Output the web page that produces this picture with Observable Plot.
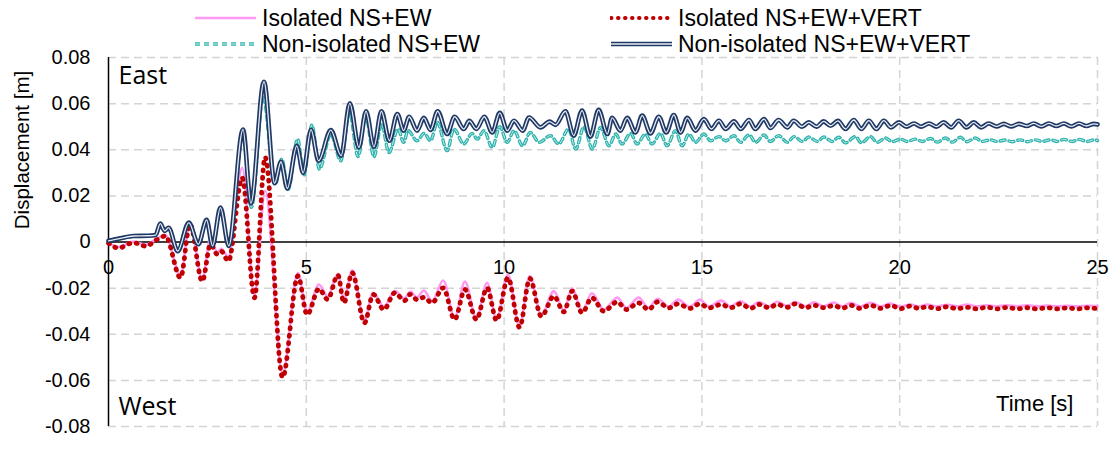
<!DOCTYPE html>
<html><head><meta charset="utf-8">
<script src="https://cdn.jsdelivr.net/npm/d3@7"></script>
<script src="https://cdn.jsdelivr.net/npm/@observablehq/plot@0.6"></script>
<style>
body{margin:0;background:#fff;font-family:"Liberation Sans",Arial,sans-serif;}
#wrap{position:relative;width:1113px;height:450px;overflow:hidden;}
.lt{position:absolute;font-size:23px;line-height:1;white-space:nowrap;color:#000;transform:translateY(-50%);}
.sw{position:absolute;}
#ylab{position:absolute;left:22px;top:150px;transform:translate(-50%,-50%) rotate(-90deg);font-size:20.5px;white-space:nowrap;}
</style></head>
<body><div id="wrap"></div>
<script>
// ---- data ----
const seriesNames = ["Isolated NS+EW","Isolated NS+EW+VERT","Non-isolated NS+EW","Non-isolated NS+EW+VERT"];
const xTicks = [0,5,10,15,20,25];
const yTicks = [-0.08,-0.06,-0.04,-0.02,0,0.02,0.04,0.06,0.08];

// Isolated: shared time stamps (s)
const isoT = [0,0.25,0.63,0.95,1.20,1.44,1.82,2.06,2.37,2.58,2.75,2.85,3.03,3.38,3.69,3.96,4.40,4.79,5.02,5.32,5.54,5.80,5.95,6.16,6.47,6.69,6.96,7.24,7.48,7.63,7.80,7.97,8.18,8.46,8.75,9.01,9.30,9.57,9.81,10.10,10.39,10.65,10.94,11.26,11.51,11.72,11.97,12.22,12.52,12.86,13.09,13.40,13.65,13.88,14.16,14.40,14.69,14.95,15.17,15.49,15.72,15.98,16.23,16.44,16.70,16.90,17.16,17.36,17.62,17.83,18.08,18.33,18.55,18.76,19.01,19.26,19.52,19.77,20.02,20.27,20.48,20.69,20.95,21.20,21.45,21.70,21.95,22.21,22.46,22.71,22.97,23.22,23.47,23.73,23.98,24.23,24.49,24.74,25];
// Isolated NS+EW (m)
const isoNSEW = [-0.0003,-0.0022,0.0002,-0.0012,0.0012,0.0030,-0.0145,0.0083,-0.0160,0.0017,-0.0045,-0.0030,-0.0065,0.0322,-0.0230,0.0222,-0.0572,-0.0135,-0.0305,-0.0184,-0.0235,-0.0138,-0.0250,-0.0123,-0.0340,-0.0220,-0.0280,-0.0213,-0.0245,-0.0215,-0.0240,-0.0210,-0.0257,-0.0167,-0.0329,-0.0172,-0.0332,-0.0177,-0.0336,-0.0141,-0.0365,-0.0148,-0.0317,-0.0213,-0.0297,-0.0201,-0.0300,-0.0222,-0.0293,-0.0241,-0.0286,-0.0241,-0.0285,-0.0246,-0.0280,-0.0250,-0.0281,-0.0250,-0.0280,-0.0254,-0.0279,-0.0257,-0.0280,-0.0260,-0.0279,-0.0259,-0.0278,-0.0260,-0.0279,-0.0262,-0.0279,-0.0263,-0.0279,-0.0264,-0.0279,-0.0264,-0.0279,-0.0267,-0.0280,-0.0271,-0.0280,-0.0271,-0.0279,-0.0272,-0.0279,-0.0271,-0.0279,-0.0274,-0.0279,-0.0275,-0.0279,-0.0275,-0.0279,-0.0276,-0.0279,-0.0277,-0.0279,-0.0277,-0.0278];
// Isolated NS+EW+VERT (m)
const isoVert = [-0.0005,-0.0026,-0.0003,-0.0018,0.0008,0.0026,-0.0155,0.0077,-0.0170,-0.0010,-0.0053,-0.0040,-0.0083,0.0278,-0.0242,0.0368,-0.0587,-0.0147,-0.0315,-0.0203,-0.0249,-0.0143,-0.0264,-0.0133,-0.0351,-0.0227,-0.0293,-0.0220,-0.0255,-0.0227,-0.0250,-0.0240,-0.0264,-0.0199,-0.0336,-0.0206,-0.0336,-0.0199,-0.0340,-0.0155,-0.0370,-0.0158,-0.0322,-0.0235,-0.0303,-0.0213,-0.0307,-0.0242,-0.0300,-0.0260,-0.0293,-0.0264,-0.0293,-0.0260,-0.0286,-0.0268,-0.0288,-0.0268,-0.0286,-0.0271,-0.0285,-0.0268,-0.0288,-0.0271,-0.0285,-0.0271,-0.0283,-0.0268,-0.0285,-0.0274,-0.0285,-0.0276,-0.0287,-0.0275,-0.0288,-0.0274,-0.0288,-0.0275,-0.0289,-0.0278,-0.0288,-0.0281,-0.0289,-0.0281,-0.0289,-0.0283,-0.0290,-0.0283,-0.0290,-0.0284,-0.0290,-0.0285,-0.0290,-0.0285,-0.0290,-0.0286,-0.0290,-0.0286,-0.0289];

// Non-isolated NS+EW
const nonT = [0,0.3,0.63,1.0,1.19,1.31,1.42,1.52,1.75,2.03,2.27,2.48,2.63,2.83,3.04,3.41,3.61,3.91,4.21,4.38,4.54,4.78,4.94,5.14,5.33,5.62,5.87,6.09,6.31,6.50,6.71,6.90,7.09,7.32,7.46,7.57,7.80,7.98,8.14,8.31,8.56,8.73,8.98,9.19,9.32,9.49,9.70,9.89,10.08,10.25,10.47,10.66,10.89,11.17,11.38,11.63,11.81,12.02,12.23,12.44,12.65,12.82,12.98,13.20,13.36,13.57,13.74,13.95,14.12,14.33,14.50,14.67,14.84,15.05,15.22,15.43,15.60,15.81,15.98,16.19,16.36,16.57,16.73,16.94,17.16,17.33,17.54,17.70,17.92,18.08,18.29,18.46,18.63,18.88,19.03,19.26,19.43,19.64,19.81,20.02,20.19,20.40,20.57,20.78,20.95,21.16,21.33,21.53,21.70,21.91,22.08,22.29,22.46,22.67,22.84,23.05,23.22,23.43,23.60,23.81,23.98,24.15,24.36,24.53,24.74,24.91,25];
const nonNSEW = [0.0005,0.0015,0.0024,0.0026,0.0029,0.0078,0.0047,0.0060,-0.0038,0.0082,-0.0008,0.0094,-0.0015,0.0145,-0.0020,0.0475,0.0150,0.0630,0.0250,0.0360,0.0228,0.0446,0.0290,0.0507,0.0316,0.0468,0.0352,0.0562,0.0370,0.0548,0.0370,0.0512,0.0388,0.0490,0.0432,0.0483,0.0439,0.0471,0.0439,0.0519,0.0396,0.0490,0.0425,0.0471,0.0446,0.0483,0.0410,0.0500,0.0432,0.0483,0.0417,0.0475,0.0432,0.0461,0.0425,0.0490,0.0403,0.0500,0.0403,0.0497,0.0417,0.0468,0.0425,0.0471,0.0425,0.0468,0.0425,0.0471,0.0417,0.0483,0.0417,0.0468,0.0432,0.0468,0.0439,0.0457,0.0439,0.0461,0.0432,0.0465,0.0432,0.0464,0.0436,0.0461,0.0432,0.0457,0.0436,0.0455,0.0436,0.0455,0.0436,0.0454,0.0430,0.0457,0.0430,0.0457,0.0432,0.0451,0.0435,0.0446,0.0436,0.0446,0.0436,0.0449,0.0433,0.0451,0.0433,0.0454,0.0435,0.0451,0.0436,0.0443,0.0436,0.0442,0.0435,0.0443,0.0435,0.0443,0.0436,0.0443,0.0436,0.0445,0.0436,0.0445,0.0436,0.0443,0.0440];

// Non-isolated NS+EW+VERT
const nvT = [0,0.3,0.63,1.0,1.19,1.31,1.42,1.52,1.75,2.03,2.27,2.48,2.63,2.83,3.04,3.40,3.60,3.93,4.20,4.36,4.52,4.76,4.92,5.12,5.31,5.62,5.88,6.10,6.33,6.51,6.71,6.90,7.10,7.30,7.46,7.60,7.80,7.97,8.14,8.32,8.56,8.75,8.98,9.12,9.30,9.50,9.70,9.89,10.08,10.25,10.47,10.63,10.92,11.15,11.30,11.55,11.76,11.97,12.18,12.39,12.61,12.73,12.94,13.11,13.32,13.49,13.70,13.91,14.10,14.29,14.46,14.63,14.84,15.05,15.24,15.43,15.60,15.81,15.98,16.19,16.35,16.57,16.73,16.94,17.16,17.32,17.53,17.70,17.90,18.08,18.25,18.44,18.63,18.84,19.03,19.22,19.41,19.60,19.78,19.98,20.17,20.36,20.54,20.74,20.93,21.11,21.30,21.49,21.69,21.87,22.06,22.25,22.45,22.63,22.82,23.01,23.21,23.39,23.58,23.77,23.96,24.15,24.34,24.53,24.72,24.91,25];
const nonVert = [0.0005,0.0016,0.0026,0.0027,0.0030,0.0080,0.0048,0.0062,-0.0040,0.0084,-0.0010,0.0096,-0.0017,0.0149,-0.0017,0.0488,0.0168,0.0695,0.0255,0.0348,0.0232,0.0417,0.0300,0.0487,0.0352,0.0485,0.0374,0.0601,0.0410,0.0567,0.0413,0.0567,0.0439,0.0555,0.0483,0.0543,0.0483,0.0538,0.0486,0.0567,0.0468,0.0543,0.0490,0.0525,0.0490,0.0543,0.0475,0.0560,0.0483,0.0526,0.0483,0.0540,0.0497,0.0522,0.0508,0.0567,0.0461,0.0570,0.0457,0.0573,0.0468,0.0538,0.0483,0.0538,0.0475,0.0548,0.0471,0.0543,0.0475,0.0551,0.0475,0.0538,0.0483,0.0533,0.0490,0.0526,0.0490,0.0523,0.0490,0.0529,0.0490,0.0533,0.0494,0.0529,0.0497,0.0526,0.0500,0.0519,0.0500,0.0523,0.0504,0.0525,0.0490,0.0529,0.0490,0.0526,0.0490,0.0526,0.0497,0.0519,0.0500,0.0514,0.0500,0.0514,0.0500,0.0519,0.0497,0.0526,0.0497,0.0519,0.0497,0.0514,0.0501,0.0512,0.0501,0.0512,0.0503,0.0514,0.0501,0.0514,0.0503,0.0514,0.0501,0.0514,0.0503,0.0512,0.0510];

// ---- colours / styles ----
const cPink = "#ff99f2", cRed = "#c00000", cTeal = "#2eb2ac", cTealIn = "#c4f0ee", cNavy = "#1f3864", cNavyIn = "#e8ecf4";

const pts = (T, V) => T.map((t, i) => ({t, v: V[i]}));
const line = (data, o) => Plot.line(data, {x: "t", y: "v", curve: "monotone-x", strokeLinejoin: "round", ...o});

const plot = Plot.plot({
  width: 1113, height: 450,
  marginLeft: 108, marginRight: 16, marginTop: 57, marginBottom: 24,
  x: {domain: [0, 25], axis: null},
  y: {domain: [-0.08, 0.08], axis: null},
  style: {fontFamily: "'Liberation Sans', Arial, sans-serif", fontSize: "20px", color: "#000", background: "transparent", overflow: "visible"},
  marks: [
    Plot.gridX(xTicks.filter(d => d > 0), {stroke: "#d4d4d4", strokeOpacity: 1, strokeWidth: 1.5, strokeDasharray: "8,5"}),
    Plot.gridY(yTicks.filter(d => d !== 0), {stroke: "#d4d4d4", strokeOpacity: 1, strokeWidth: 1.5, strokeDasharray: "8,5"}),
    Plot.ruleY([0], {stroke: "#000", strokeWidth: 1.5}),
    Plot.ruleX([0], {stroke: "#000", strokeWidth: 1.5}),
    Plot.axisY(yTicks, {tickSize: 0, tickPadding: 18, label: null, fontSize: 20, tickFormat: d => d === 0 ? "0" : d.toFixed(2)}),
    Plot.text(xTicks, {x: d => d, y: 0, dy: 26, text: d => String(d), fontSize: 20, textAnchor: "middle", lineAnchor: "middle"}),
    line(pts(isoT, isoNSEW), {stroke: cPink, strokeWidth: 2.6}),
    line(pts(isoT, isoVert), {stroke: cRed, strokeWidth: 4.8, strokeDasharray: "1,6.5", strokeLinecap: "round"}),
    line(pts(nonT, nonNSEW), {stroke: cTeal, strokeWidth: 3.4, strokeDasharray: "5,4"}),
    line(pts(nonT, nonNSEW), {stroke: cTealIn, strokeWidth: 1, strokeDasharray: "5,4"}),
    line(pts(nvT, nonVert), {stroke: cNavy, strokeWidth: 4.6}),
    line(pts(nvT, nonVert), {stroke: cNavyIn, strokeWidth: 1.3}),
    Plot.text(["East"], {frameAnchor: "top-left", dx: 10, dy: 9, textAnchor: "start", lineAnchor: "top", fontSize: 25, fontFamily: "'Open Sans', sans-serif"}),
    Plot.text(["West"], {frameAnchor: "bottom-left", dx: 10, dy: -12, textAnchor: "start", lineAnchor: "bottom", fontSize: 25, fontFamily: "'Open Sans', sans-serif"}),
    Plot.text(["Time [s]"], {frameAnchor: "bottom-right", dx: -24, dy: -16, textAnchor: "end", lineAnchor: "bottom", fontSize: 22})
  ]
});

const wrap = document.getElementById("wrap");
wrap.appendChild(plot);

// ---- legend (above the plot area) ----
const legend = [
  {name: seriesNames[0], x: 194, y: 18, kind: "pink"},
  {name: seriesNames[1], x: 610, y: 18, kind: "red"},
  {name: seriesNames[2], x: 194, y: 44, kind: "teal"},
  {name: seriesNames[3], x: 610, y: 44, kind: "navy"}
];
const ns = "http://www.w3.org/2000/svg";
for (const L of legend) {
  const s = document.createElementNS(ns, "svg");
  s.setAttribute("width", 64); s.setAttribute("height", 12);
  s.setAttribute("class", "sw");
  s.style.left = L.x + "px"; s.style.top = (L.y - 6) + "px";
  const mk = (stroke, w, dash, cap) => {
    const l = document.createElementNS(ns, "line");
    l.setAttribute("x1", 1); l.setAttribute("x2", 62); l.setAttribute("y1", 6); l.setAttribute("y2", 6);
    l.setAttribute("stroke", stroke); l.setAttribute("stroke-width", w);
    if (dash) l.setAttribute("stroke-dasharray", dash);
    if (cap) l.setAttribute("stroke-linecap", cap);
    s.appendChild(l);
  };
  if (L.kind === "pink") mk(cPink, 2.6);
  if (L.kind === "red") mk(cRed, 4, "0.5,6.5", "round");
  if (L.kind === "teal") { mk(cTeal, 3.4, "5,4"); mk(cTealIn, 1, "5,4"); }
  if (L.kind === "navy") { mk(cNavy, 4.6); mk(cNavyIn, 1.3); }
  wrap.appendChild(s);
  const t = document.createElement("div");
  t.className = "lt"; t.textContent = L.name;
  t.style.left = (L.x + 68) + "px"; t.style.top = L.y + "px";
  wrap.appendChild(t);
}
const yl = document.createElement("div");
yl.id = "ylab"; yl.textContent = "Displacement [m]";
wrap.appendChild(yl);
</script>
</body></html>
